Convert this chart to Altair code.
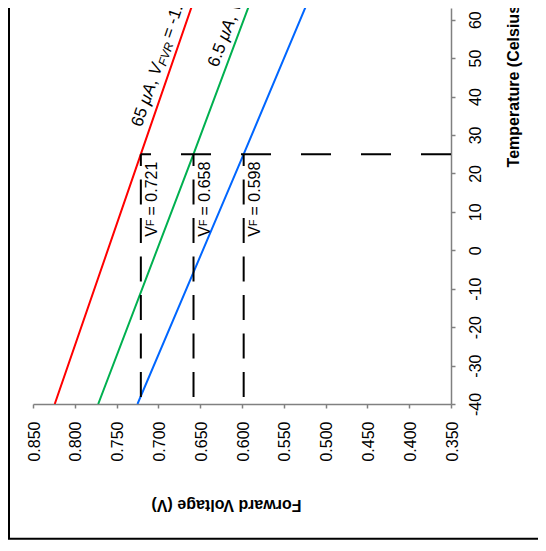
import altair as alt
import pandas as pd

# ---------------- data ----------------
temps = [-40, 25, 85]
vf_red = [0.824, 0.721, 0.626]     # 65 uA
vf_green = [0.772, 0.658, 0.555]   # 6.5 uA
vf_blue = [0.725, 0.598, 0.482]
series = ["65 µA", "6.5 µA", "0.65 µA"]
colors = ["#FF0000", "#00B050", "#0066FF"]

ref_temp = 25
min_temp = -40
vf_at_ref = [0.721, 0.658, 0.598]
vf_labels = ["0.721", "0.658", "0.598"]

x_ticks = [0.850, 0.800, 0.750, 0.700, 0.650, 0.600, 0.550, 0.500, 0.450, 0.400, 0.350]
y_ticks = [-40, -30, -20, -10, 0, 10, 20, 30, 40, 50, 60]

FONT = "Liberation Sans"

rows = []
for name, vals in zip(series, [vf_red, vf_green, vf_blue]):
    for t, v in zip(temps, vals):
        rows.append({"series": name, "t": t, "v": v})
lines_df = pd.DataFrame(rows)

x_enc = alt.X(
    "v:Q",
    scale=alt.Scale(domain=[0.350, 0.850], reverse=True, nice=False, zero=False),
    axis=alt.Axis(
        values=x_ticks, format=".3f", labelAngle=270, labelAlign="right",
        labelBaseline="middle", labelPadding=13, labelOffset=1,
        title="Forward Voltage (V)", titleAngle=180, titleX=193, titleY=100,
        titleAlign="center", titleBaseline="middle",
    ),
)
y_enc = alt.Y(
    "t:Q",
    scale=alt.Scale(domain=[-40, 63.04], nice=False, zero=False),
    axis=alt.Axis(
        orient="right", values=y_ticks, labelAngle=270, labelAlign="center",
        labelBaseline="top", labelPadding=12, labelExpr="datum.value + ''",
        title="Temperature (Celsius)", titleAngle=270, titleX=62, titleY=75,
        titleAlign="center", titleBaseline="middle",
    ),
)

lines = alt.Chart(lines_df).mark_line(strokeWidth=2, clip=True).encode(
    x=x_enc, y=y_enc,
    color=alt.Color("series:N", scale=alt.Scale(domain=series, range=colors), legend=None),
    order="t:Q",
)

vert_df = pd.DataFrame({"v": vf_at_ref, "t": [min_temp] * 3, "t2": [ref_temp] * 3})
vert = alt.Chart(vert_df).mark_rule(
    color="black", strokeWidth=2, strokeDash=[25, 13.5], strokeDashOffset=31.5
).encode(x=x_enc, y=y_enc, y2="t2:Q")

horiz_df = pd.DataFrame({"v": [0.350], "v2": [vf_at_ref[0]], "t": [ref_temp]})
horiz = alt.Chart(horiz_df).mark_rule(color="black", strokeWidth=2, strokeDash=[30, 30]).encode(
    x=x_enc, x2="v2:Q", y=y_enc
)

# character widths (Arial metrics, per 1000 em) for placing text pieces in sequence
W = {c: 556 for c in "0123456789"}
W.update({".": 278, " ": 278, ",": 278, "=": 584, "-": 333, "μ": 576, "A": 667,
          "V": 667, "F": 611, "R": 722, "m": 833, "/": 278, "°": 400, "C": 722})


def tw(s, size):
    return sum(W.get(c, 556) for c in s) * size / 1000.0


def pieces(v, t, angle, base_dy, segs, baseline="alphabetic"):
    layers = []
    off = 0.0
    df = pd.DataFrame({"v": [v], "t": [t]})
    for text, size, style, shift, extra in segs:
        layers.append(
            alt.Chart(df).mark_text(
                text=text, font=FONT, fontSize=size, fontStyle=style, angle=angle,
                align="left", baseline=baseline, dx=off, dy=base_dy + shift, color="black",
            ).encode(x=x_enc, y=y_enc)
        )
        off += tw(text, size) + extra
    return layers


texts = []
# line annotations
texts += pieces(0.7112, 31.2, 289.0, -8, [
    ("65 ", 17, "normal", 0, 0), ("μA", 17, "italic", 0, 0), (", ", 17, "normal", 0, 0),
    ("V", 17, "italic", 0, 0), ("FVR", 12, "italic", 3, 4), ("= -1.58 mV/°C", 17, "normal", 0, 0),
])
texts += pieces(0.6202, 46.7, 290.75, -8, [
    ("6.5 ", 17, "normal", 0, 0), ("μA", 17, "italic", 0, 0), (", ", 17, "normal", 0, 0),
    ("V", 17, "italic", 0, 0), ("FVR", 12, "italic", 3, 4), ("= -1.74 mV/°C", 17, "normal", 0, 0),
])
# VF labels
for v, lab in zip(vf_at_ref, vf_labels):
    texts += pieces(v, 3.5, 270, 3, [
        ("V", 16, "normal", 0, 0), ("F", 11, "normal", 1, 4), ("= " + lab, 16, "normal", 0, 0),
    ], baseline="top")

frame = alt.Chart(pd.DataFrame({"a": [0]})).mark_rect(
    fillOpacity=0, stroke="black", strokeWidth=2
).encode(x=alt.value(-24), x2=alt.value(700), y=alt.value(-50), y2=alt.value(530.7))

chart = alt.layer(frame, lines, vert, horiz, *texts).properties(
    width=418, height=396,
    autosize=alt.AutoSizeParams(type="none"),
    padding={"left": 25, "top": 0, "right": 87, "bottom": 139},
).configure_view(stroke=None).configure_axis(
    grid=False, domainColor="#808080", domainWidth=1.5, tickColor="#808080",
    tickWidth=1.5, tickSize=4, labelFont=FONT, labelFontSize=16, labelColor="black",
    titleFont=FONT, titleFontSize=16, titleFontWeight="bold", titleColor="black",
)

chart.save("out.html", embed_options={"renderer": "svg", "actions": False})
